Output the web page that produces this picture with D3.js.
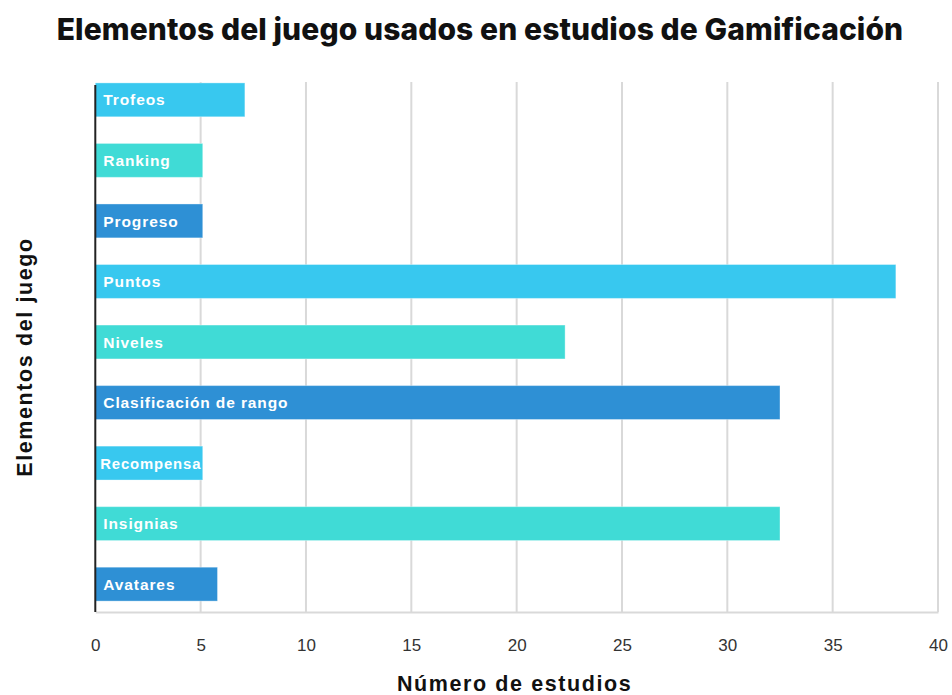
<!DOCTYPE html>
<html lang="es">
<head>
<meta charset="utf-8">
<script src="https://cdn.jsdelivr.net/npm/d3@7"></script>
<style>
  html, body { margin: 0; padding: 0; background: #fff; }
  svg { display: block; }
</style>
</head>
<body>
<svg id="chart" width="952" height="695"></svg>
<script>
// Game elements and number of studies that used each one
const categories = ["Trofeos", "Ranking", "Progreso", "Puntos", "Niveles",
  "Clasificación de rango", "Recompensa", "Insignias", "Avatares"];
const studies = [7.1, 5.1, 5.1, 38, 22.3, 32.5, 5.1, 32.5, 5.8];
const barColors = ["#38C8EF", "#40DBD6", "#2E90D5", "#38C8EF", "#40DBD6",
  "#2E90D5", "#38C8EF", "#40DBD6", "#2E90D5"];
const xTicks = [0, 5, 10, 15, 20, 25, 30, 35, 40];

const svg = d3.select("#chart");
const plotLeft = 95.3, plotRight = 938, plotTop = 82, plotBottom = 612;

const x = d3.scaleLinear().domain([0, 40]).range([plotLeft, plotRight]);
const y = d3.scaleBand().domain(categories).range([72, plotBottom])
  .paddingInner(0.44).paddingOuter(0.18);

// Title
svg.append("text")
  .attr("x", 480).attr("y", 40)
  .attr("text-anchor", "middle")
  .attr("font-family", "Inter, 'Open Sans', sans-serif")
  .attr("font-weight", 800)
  .attr("font-size", 30)
  .attr("letter-spacing", "0.1px")
  .attr("fill", "#111")
  .text("Elementos del juego usados en estudios de Gamificación");

// Vertical gridlines
svg.append("g").selectAll("line").data(xTicks.slice(1)).join("line")
  .attr("x1", d => x(d)).attr("x2", d => x(d))
  .attr("y1", plotTop).attr("y2", plotBottom)
  .attr("stroke", "#d9d9d9").attr("stroke-width", 2);

// Bottom axis with tick labels
const xAxis = svg.append("g")
  .attr("transform", `translate(0,${plotBottom})`)
  .call(d3.axisBottom(x).tickValues(xTicks).tickSize(0).tickPadding(27));
xAxis.select(".domain").attr("stroke", "#d9d9d9").attr("stroke-width", 2);
xAxis.selectAll("text")
  .attr("font-family", "'Liberation Sans', Arial, sans-serif")
  .attr("font-size", 17)
  .attr("fill", "#333");

// Bars
svg.append("g").selectAll("rect").data(categories).join("rect")
  .attr("x", x(0))
  .attr("y", d => y(d))
  .attr("width", (d, i) => x(studies[i]) - x(0))
  .attr("height", y.bandwidth())
  .attr("fill", (d, i) => barColors[i])
  .attr("stroke", "rgba(255,255,255,0.35)")
  .attr("stroke-width", 1);

// Labels inside the bars; a label wider than its bar is squeezed to fit
const labels = svg.append("g").selectAll("text").data(categories).join("text")
  .attr("x", x(0) + 8)
  .attr("y", d => y(d) + y.bandwidth() / 2)
  .attr("dy", "0.36em")
  .attr("font-family", "'Liberation Sans', Arial, sans-serif")
  .attr("font-weight", 700)
  .attr("font-size", 15.5)
  .attr("letter-spacing", "0.9px")
  .attr("fill", "#fff")
  .text(d => d);

labels.each(function (d, i) {
  const barEnd = x(studies[i]);
  const len = this.getComputedTextLength();
  if (x(0) + 8 + len > barEnd - 1) {
    const start = x(0) + 5;
    d3.select(this)
      .attr("x", start)
      .attr("textLength", barEnd - 1.5 - start)
      .attr("lengthAdjust", "spacingAndGlyphs");
  }
});

// Left axis line
svg.append("line")
  .attr("x1", plotLeft).attr("x2", plotLeft)
  .attr("y1", 85).attr("y2", plotBottom)
  .attr("stroke", "#222").attr("stroke-width", 2);

// Axis titles
svg.append("text")
  .attr("x", (plotLeft + plotRight) / 2 - 2).attr("y", 691)
  .attr("text-anchor", "middle")
  .attr("font-family", "'Liberation Sans', Arial, sans-serif")
  .attr("font-weight", 700)
  .attr("font-size", 21.5)
  .attr("letter-spacing", "1.6px")
  .attr("fill", "#111")
  .text("Número de estudios");

svg.append("text")
  .attr("transform", "translate(32,357) rotate(-90)")
  .attr("text-anchor", "middle")
  .attr("font-family", "'Liberation Sans', Arial, sans-serif")
  .attr("font-weight", 700)
  .attr("font-size", 21.5)
  .attr("letter-spacing", "1.6px")
  .attr("fill", "#111")
  .text("Elementos del juego");
</script>
</body>
</html>
